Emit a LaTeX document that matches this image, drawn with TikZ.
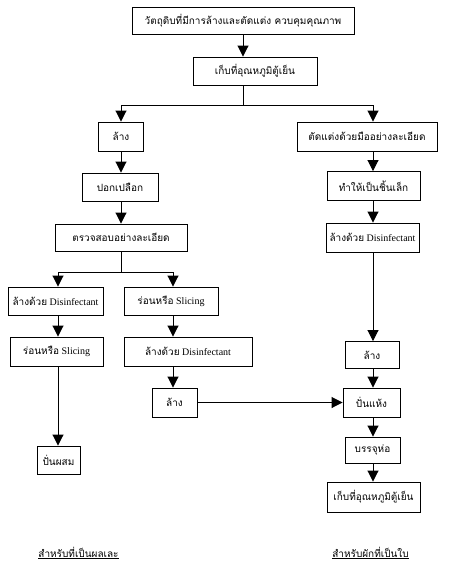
\documentclass[tikz,border=0pt]{standalone}
\usepackage{fontspec}
\setmainfont{Liberation Serif}
\newfontfamily\thai[Script=Thai]{Loma}
\usetikzlibrary{arrows.meta}
\begin{document}
\begin{tikzpicture}[x=1pt,y=-1pt,
  box/.style={draw=black,line width=0.9pt,rectangle,inner sep=0pt,fill=white,
    font=\fontsize{10}{12}\selectfont},
  conn/.style={line width=0.9pt},
  arr/.style={line width=0.9pt,-{Triangle[width=11pt,length=11pt]}},
  lbl/.style={font=\fontsize{10}{12}\selectfont,inner sep=0pt}]
\useasboundingbox[fill=white] (0,0) rectangle (454,570);
% column coordinates
\coordinate (cT) at (243,0);
\coordinate (cL) at (121,0);
\coordinate (cR) at (373,0);
\coordinate (cA) at (58,0);
\coordinate (cB) at (173,0);
% boxes
\node[box,minimum width=222pt,minimum height=27pt] (b1) at (243,20.5) {\thai วัตถุดิบที่มีการล้างและตัดแต่ง ควบคุมคุณภาพ};
\node[box,minimum width=124pt,minimum height=28pt] (b2) at (255,71) {\thai เก็บที่อุณหภูมิตู้เย็น};
\node[box,minimum width=45pt,minimum height=29pt] (L1) at (121,136.5) {\thai ล้าง};
\node[box,minimum width=140pt,minimum height=29pt] (R1) at (367,136.5) {\thai ตัดแต่งด้วยมืออย่างละเอียด};
\node[box,minimum width=76pt,minimum height=28pt] (L2) at (120,187) {\thai ปอกเปลือก};
\node[box,minimum width=93pt,minimum height=29pt] (R2) at (373.5,186) {\thai ทำให้เป็นชิ้นเล็ก};
\node[box,minimum width=132pt,minimum height=27pt] (L3) at (121,237.5) {\thai ตรวจสอบอย่างละเอียด};
\node[box,minimum width=93pt,minimum height=29pt] (R3) at (372.5,237.5) {{\thai ล้างด้วย} Disinfectant};
\node[box,minimum width=95pt,minimum height=28pt] (A1) at (55.5,301) {{\thai ล้างด้วย} Disinfectant};
\node[box,minimum width=94pt,minimum height=28pt] (B1) at (171,301) {{\thai ร่อนหรือ} Slicing};
\node[box,minimum width=93pt,minimum height=29pt] (A2) at (56.5,351.5) {{\thai ร่อนหรือ} Slicing};
\node[box,minimum width=128pt,minimum height=29pt] (B2) at (188,351.5) {{\thai ล้างด้วย} Disinfectant};
\node[box,minimum width=45pt,minimum height=29pt] (B3) at (174.5,402.5) {\thai ล้าง};
\node[box,minimum width=43pt,minimum height=28pt] (A3) at (58.5,460) {\thai ปั่นผสม};
\node[box,minimum width=54pt,minimum height=27pt] (R4) at (372,355) {\thai ล้าง};
\node[box,minimum width=57pt,minimum height=29pt] (R5) at (371.5,402.5) {\thai ปั่นแห้ง};
\node[box,minimum width=55pt,minimum height=26pt] (R6) at (372.5,450) {\thai บรรจุห่อ};
\node[box,minimum width=93pt,minimum height=30pt] (R7) at (373.5,497) {\thai เก็บที่อุณหภูมิตู้เย็น};
% labels
\node[lbl] (labL) at (78.5,553) {\thai\underline{สำหรับที่เป็นผลเละ}};
\node[lbl] (labR) at (370.5,553) {\thai\underline{สำหรับผักที่เป็นใบ}};
% split points
\coordinate (sp1) at (243,105);
\coordinate (sp2) at (121,272);
% connectors
\draw[arr] (b1.south -| cT) -- (b2.north -| cT);
\draw[conn] (b2.south -| cT) -- (sp1);
\draw[arr] (sp1) -| (L1.north -| cL);
\draw[arr] (sp1) -| (R1.north -| cR);
\draw[arr] (L1.south -| cL) -- (L2.north -| cL);
\draw[arr] (L2.south -| cL) -- (L3.north -| cL);
\draw[arr] (R1.south -| cR) -- (R2.north -| cR);
\draw[arr] (R2.south -| cR) -- (R3.north -| cR);
\draw[conn] (L3.south -| cL) -- (sp2);
\draw[arr] (sp2) -| (A1.north -| cA);
\draw[arr] (sp2) -| (B1.north -| cB);
\draw[arr] (A1.south -| cA) -- (A2.north -| cA);
\draw[arr] (A2.south -| cA) -- (A3.north -| cA);
\draw[arr] (B1.south -| cB) -- (B2.north -| cB);
\draw[arr] (B2.south -| cB) -- (B3.north -| cB);
\draw[arr] (B3.east) -- (R5.west |- B3.east);
\draw[arr] (R3.south -| cR) -- (R4.north -| cR);
\draw[arr] (R4.south -| cR) -- (R5.north -| cR);
\draw[arr] (R5.south -| cR) -- (R6.north -| cR);
\draw[arr] (R6.south -| cR) -- (R7.north -| cR);
\end{tikzpicture}
\end{document}
